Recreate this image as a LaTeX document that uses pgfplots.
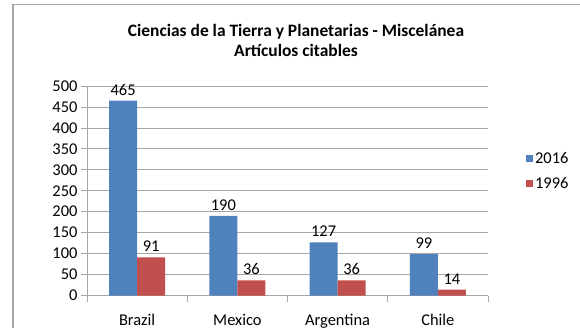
\documentclass[border=0pt]{standalone}
\usepackage{pgfplots}
\pgfplotsset{compat=1.18}
\usepackage{fontspec}
\setmainfont{Carlito}
\definecolor{cblue}{HTML}{4F81BD}
\definecolor{cred}{HTML}{C0504D}
\definecolor{cgrid}{HTML}{A6A6A6}
\begin{document}
\begin{tikzpicture}[x=1bp,y=1bp]
\path[use as bounding box] (0,0) rectangle (580,328);
\draw[cgrid,line width=1.5bp] (13,0) -- (13,323.5) -- (580,323.5);
\node[font=\bfseries\fontsize{17.5}{20}\selectfont,align=center] at (296,288) {Ciencias de la Tierra y Planetarias - Miscelánea\\Artículos citables};
\begin{axis}[
  at={(87bp,32.5bp)}, anchor=south west,
  scale only axis, width=401bp, height=209.5bp,
  ymin=0, ymax=500, ytick={0,50,...,500},
  xmin=-0.5, xmax=3.5,
  xtick={0,1,2,3}, xticklabels={Brazil,Mexico,Argentina,Chile},
  minor xtick={-0.5,0.5,1.5,2.5,3.5},
  major x tick style={draw=none},
  minor tick length=6bp, major tick length=6bp,
  tick align=outside,
  axis x line*=bottom, axis y line*=left,
  axis line style={cgrid,line width=0.8bp},
  tick style={cgrid,line width=0.8bp},
  ymajorgrids, grid style={cgrid,line width=0.8bp},
  /pgf/number format/assume math mode=true,
  tick label style={font=\fontsize{16.5}{19}\selectfont},
  xticklabel style={yshift=-9bp},
  yticklabel style={xshift=0bp},
  ybar=0pt, bar width=28bp,
  nodes near coords,
  every node near coord/.append style={font=\fontsize{16.5}{19}\selectfont,yshift=2bp},
  legend style={at={(1.087,0.594)}, anchor=west, draw=none, font=\fontsize{16.5}{19}\selectfont, row sep=8bp},
  legend cell align=left,
  legend image code/.code={\fill[#1] (0bp,-3.5bp) rectangle (7bp,3.5bp);},
  clip=false,
]
\addplot[fill=cblue,draw=none] coordinates {(0,465) (1,190) (2,127) (3,99)};
\addplot[fill=cred,draw=none] coordinates {(0,91) (1,36) (2,36) (3,14)};
\legend{2016,1996}
\end{axis}
\end{tikzpicture}
\end{document}
